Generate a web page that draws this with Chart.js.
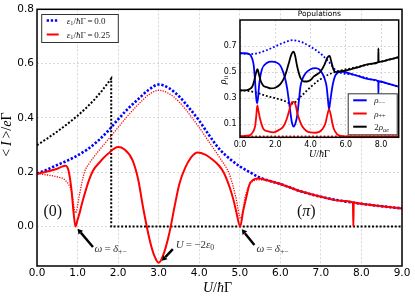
<!DOCTYPE html>
<html>
<head>
<meta charset="utf-8">
<script src="https://cdn.jsdelivr.net/npm/chart.js@4.4.1/dist/chart.umd.min.js"></script>
<style>
html, body { margin: 0; padding: 0; background: #fff; }
#wrap { position: relative; width: 415px; height: 296px; }
#main { position: absolute; left: 0; top: 0; }
#inset { position: absolute; left: 200px; top: 0; }
</style>
</head>
<body>
<div id="wrap">
  <canvas id="main" width="415" height="296"></canvas>
  <canvas id="inset" width="215" height="162"></canvas>
</div>
<script>
// ---- main panel: <I>/eΓ vs U/ħΓ ----
const uEps0 = [0, 0.25, 0.5, 0.75, 1, 1.25, 1.5, 1.75, 2, 2.25, 2.5, 2.75, 3, 3.25, 3.5, 3.75, 4, 4.25, 4.5, 4.75, 5, 5.25, 5.5, 6, 6.5, 7, 7.5, 8, 8.5, 9];
const iEps0 = [0.195, 0.21, 0.227, 0.243, 0.262, 0.285, 0.315, 0.352, 0.395, 0.435, 0.47, 0.503, 0.523, 0.51, 0.48, 0.437, 0.39, 0.335, 0.285, 0.25, 0.222, 0.2, 0.18, 0.157, 0.13, 0.11, 0.095, 0.084, 0.075, 0.067];

const uEps25 = [0, 0.25, 0.5, 0.6, 0.7, 0.78, 0.85, 0.9, 0.95, 1.0, 1.05, 1.1, 1.175, 1.28, 1.38, 1.54, 1.75, 2.0, 2.15, 2.36, 2.5, 2.61, 2.78, 2.9, 3.0, 3.1, 3.26, 3.4, 3.51, 3.65, 3.8, 3.96, 4.15, 4.3, 4.49, 4.6, 4.75, 4.85, 4.92, 5.01, 5.08, 5.16, 5.24, 5.33, 5.45, 5.7, 6, 6.5, 7, 7.5, 7.79, 7.8, 7.81, 8, 8.5, 9];
const iEps25 = [0.195, 0.203, 0.213, 0.22, 0.224, 0.205, 0.135, 0.055, 0.0, 0.025, 0.05, 0.08, 0.12, 0.17, 0.206, 0.236, 0.268, 0.293, 0.285, 0.243, 0.17, 0.075, -0.05, -0.11, -0.133, -0.11, -0.026, 0.08, 0.157, 0.215, 0.255, 0.273, 0.265, 0.25, 0.224, 0.2, 0.145, 0.095, 0.05, 0.0, 0.055, 0.108, 0.155, 0.172, 0.177, 0.17, 0.157, 0.13, 0.11, 0.095, 0.089, 0.0, 0.089, 0.084, 0.075, 0.067];

const uEps25b = [0, 0.25, 0.5, 0.7, 0.85, 0.95, 1.05, 1.17, 1.3, 1.5, 1.75, 2, 2.25, 2.5, 2.75, 3, 3.25, 3.5, 3.75, 4, 4.25, 4.5, 4.75, 4.9, 5.02, 5.15, 5.3, 5.5, 6, 6.5, 7, 7.5, 8, 8.5, 9];
const iEps25b = [0.195, 0.19, 0.183, 0.17, 0.13, 0.05, 0.12, 0.2, 0.235, 0.275, 0.32, 0.365, 0.41, 0.45, 0.485, 0.502, 0.49, 0.46, 0.415, 0.365, 0.31, 0.255, 0.19, 0.11, 0.03, 0.12, 0.165, 0.172, 0.155, 0.13, 0.11, 0.095, 0.084, 0.075, 0.067];

const uStep = [0, 0.25, 0.5, 0.75, 1, 1.2, 1.4, 1.6, 1.83, 1.83, 9];
const iStep = [0.3, 0.324, 0.35, 0.378, 0.408, 0.435, 0.465, 0.5, 0.545, 0.0, 0.0];

const mainXTicks = [0, 1, 2, 3, 4, 5, 6, 7, 8, 9];
const mainYTicks = [0, 0.2, 0.4, 0.6, 0.8];

// ---- inset: populations ----
const uMinus = [0, 0.3, 0.5, 0.6, 0.7, 0.78, 0.86, 0.92, 0.97, 1.02, 1.1, 1.24, 1.52, 1.8, 2.05, 2.29, 2.45, 2.57, 2.68, 2.76, 2.86, 2.95, 3.05, 3.15, 3.24, 3.34, 3.43, 3.55, 3.71, 4.0, 4.29, 4.5, 4.67, 4.8, 4.91, 4.98, 5.05, 5.12, 5.24, 5.34, 5.43, 5.71, 6.5, 7.5, 7.84, 7.85, 7.86, 8.5, 9];
const rhoMinus = [0.645, 0.645, 0.64, 0.63, 0.6, 0.55, 0.42, 0.3, 0.262, 0.3, 0.42, 0.52, 0.57, 0.58, 0.575, 0.55, 0.5, 0.445, 0.37, 0.29, 0.19, 0.11, 0.083, 0.11, 0.165, 0.28, 0.39, 0.45, 0.49, 0.522, 0.53, 0.52, 0.49, 0.45, 0.39, 0.3, 0.215, 0.28, 0.39, 0.45, 0.48, 0.505, 0.478, 0.442, 0.43, 0.33, 0.43, 0.408, 0.388];

const uPlus = [0, 0.4, 0.6, 0.75, 0.86, 0.92, 0.98, 1.05, 1.14, 1.33, 1.6, 1.9, 2.2, 2.48, 2.65, 2.76, 2.87, 2.95, 3.03, 3.15, 3.24, 3.38, 3.52, 3.75, 4.0, 4.3, 4.67, 4.85, 4.95, 5.05, 5.15, 5.25, 5.33, 5.5, 5.71, 6, 7, 8, 9];
const rhoPlus = [0.008, 0.012, 0.02, 0.045, 0.087, 0.16, 0.245, 0.2, 0.14, 0.063, 0.045, 0.038, 0.055, 0.087, 0.14, 0.19, 0.245, 0.27, 0.272, 0.25, 0.19, 0.13, 0.087, 0.05, 0.037, 0.035, 0.062, 0.11, 0.17, 0.215, 0.17, 0.1, 0.062, 0.025, 0.01, 0.007, 0.006, 0.006, 0.006];

const uAe = [0, 0.4, 0.55, 0.7, 0.8, 0.9, 0.99, 1.08, 1.18, 1.33, 1.52, 1.75, 2.0, 2.3, 2.55, 2.75, 2.9, 3.03, 3.12, 3.24, 3.43, 3.6, 3.8, 4.0, 4.19, 4.57, 4.8, 4.95, 5.08, 5.18, 5.3, 5.45, 5.7, 6.5, 7.5, 7.84, 7.85, 7.86, 8.5, 9];
const rhoAe = [0.36, 0.362, 0.37, 0.39, 0.43, 0.49, 0.523, 0.48, 0.43, 0.395, 0.385, 0.375, 0.38, 0.41, 0.47, 0.56, 0.63, 0.657, 0.63, 0.545, 0.455, 0.43, 0.428, 0.44, 0.467, 0.505, 0.56, 0.61, 0.625, 0.58, 0.52, 0.5, 0.505, 0.53, 0.565, 0.578, 0.683, 0.578, 0.597, 0.615];

const uMinus0 = [0, 0.5, 1, 1.5, 2, 2.5, 3, 3.5, 4, 4.5, 5, 5.5, 6.5, 7.5, 8.5, 9];
const rhoMinus0 = [0.645, 0.638, 0.645, 0.668, 0.697, 0.727, 0.745, 0.73, 0.695, 0.65, 0.585, 0.508, 0.478, 0.442, 0.408, 0.388];

const uPlus0 = [0, 9];
const rhoPlus0 = [0.006, 0.006];

const uAe0 = [0, 0.5, 1, 1.5, 2, 2.5, 2.95, 3.5, 4, 4.5, 5, 5.5, 6.5, 7.5, 8.5, 9];
const rhoAe0 = [0.36, 0.355, 0.34, 0.317, 0.3, 0.28, 0.258, 0.32, 0.385, 0.44, 0.48, 0.505, 0.535, 0.565, 0.597, 0.615];

const insetXTicks = [0, 2, 4, 6, 8];
const insetYTicks = [0.1, 0.3, 0.5, 0.7];

const pts = (xs, ys) => xs.map((x, i) => ({x: x, y: ys[i]}));
const SANS = '"DejaVu Sans", sans-serif';
const SERIF = '"Liberation Serif", "DejaVu Serif", serif';

// draws a list of [text, kind] pieces; kind: r roman, i italic, s subscript, si italic subscript
function drawMath(ctx, parts, x, y, size, align) {
  const fnt = k => (k.indexOf('i') >= 0 ? 'italic ' : '') + (k.indexOf('s') >= 0 ? size * 0.7 : size) + 'px ' + SERIF;
  let w = 0;
  parts.forEach(p => { ctx.font = fnt(p[1]); w += ctx.measureText(p[0]).width; });
  let cx = align === 'center' ? x - w / 2 : (align === 'right' ? x - w : x);
  ctx.textAlign = 'left';
  ctx.textBaseline = 'alphabetic';
  parts.forEach(p => {
    ctx.font = fnt(p[1]);
    const dy = p[1].indexOf('s') >= 0 ? size * 0.22 : 0;
    ctx.fillText(p[0], cx, y + dy);
    cx += ctx.measureText(p[0]).width;
  });
}

function arrow(ctx, x1, y1, x2, y2) {
  const a = Math.atan2(y2 - y1, x2 - x1);
  const hl = 5, hw = 3;
  ctx.save();
  ctx.strokeStyle = '#000'; ctx.fillStyle = '#000'; ctx.lineWidth = 2.4;
  ctx.beginPath();
  ctx.moveTo(x1, y1);
  ctx.lineTo(x2 - hl * Math.cos(a), y2 - hl * Math.sin(a));
  ctx.stroke();
  ctx.beginPath();
  ctx.moveTo(x2, y2);
  ctx.lineTo(x2 - hl * Math.cos(a) + hw * Math.sin(a), y2 - hl * Math.sin(a) - hw * Math.cos(a));
  ctx.lineTo(x2 - hl * Math.cos(a) - hw * Math.sin(a), y2 - hl * Math.sin(a) + hw * Math.cos(a));
  ctx.closePath();
  ctx.fill();
  ctx.restore();
}

const thin = '\u2009';

const mainDecor = {
  id: 'mainDecor',
  afterDraw(chart) {
    const ctx = chart.ctx, a = chart.chartArea;
    const xs = chart.scales.x, ys = chart.scales.y;
    const X = v => xs.getPixelForValue(v), Y = v => ys.getPixelForValue(v);
    ctx.save();
    ctx.strokeStyle = '#000'; ctx.lineWidth = 1.5;
    ctx.strokeRect(a.left, a.top, a.right - a.left, a.bottom - a.top);

    // legend
    const lx = a.left + 4.7, ly = a.top + 5.2;
    ctx.fillStyle = '#fff'; ctx.fillRect(lx, ly, 76.6, 28);
    ctx.strokeStyle = '#333'; ctx.lineWidth = 1; ctx.strokeRect(lx, ly, 76.6, 28);
    ctx.lineWidth = 2.6; ctx.strokeStyle = '#0000ff'; ctx.setLineDash([2.3, 1.8]);
    ctx.beginPath(); ctx.moveTo(lx + 5, ly + 6); ctx.lineTo(lx + 17, ly + 6); ctx.stroke();
    ctx.setLineDash([]); ctx.lineWidth = 2; ctx.strokeStyle = '#ff0000';
    ctx.beginPath(); ctx.moveTo(lx + 5, ly + 20); ctx.lineTo(lx + 17, ly + 20); ctx.stroke();
    ctx.fillStyle = '#222';
    drawMath(ctx, [['ε', 'i'], ['1', 's'], ['/', 'r'], ['ħ', 'i'], ['Γ', 'r'], [thin + '=' + thin + '0.0', 'r']], lx + 25, ly + 9, 9, 'left');
    drawMath(ctx, [['ε', 'i'], ['1', 's'], ['/', 'r'], ['ħ', 'i'], ['Γ', 'r'], [thin + '=' + thin + '0.25', 'r']], lx + 25, ly + 23, 9, 'left');

    // phase labels
    ctx.fillStyle = '#111';
    drawMath(ctx, [['(0)', 'r']], X(0.39), Y(0.06) + 5.5, 16, 'center');
    drawMath(ctx, [['(', 'r'], ['π', 'i'], [')', 'r']], X(6.64), Y(0.06) + 5.5, 16, 'center');

    // arrows and notes
    arrow(ctx, X(1.38), Y(-0.075), X(1.0), Y(-0.008));
    arrow(ctx, X(3.35), Y(-0.083), X(3.08), Y(-0.126));
    arrow(ctx, X(5.36), Y(-0.068), X(5.05), Y(-0.01));
    ctx.fillStyle = '#333';
    drawMath(ctx, [['ω', 'i'], [thin + '=' + thin, 'r'], ['δ', 'i'], ['+−', 's']], X(1.42), Y(-0.079) + 3.5, 11, 'left');
    drawMath(ctx, [['U', 'i'], [thin + '=' + thin + '−2', 'r'], ['ε', 'i'], ['0', 's']], X(3.42), Y(-0.066) + 3.5, 11, 'left');
    drawMath(ctx, [['ω', 'i'], [thin + '=' + thin, 'r'], ['δ', 'i'], ['+−', 's']], X(5.41), Y(-0.079) + 3.5, 11, 'left');

    // axis titles
    ctx.fillStyle = '#000';
    drawMath(ctx, [['U', 'i'], ['/', 'r'], ['ħ', 'i'], ['Γ', 'r']], (a.left + a.right) / 2 - 2, 292, 14, 'center');
    ctx.translate(10.5, (a.top + a.bottom) / 2 - 3);
    ctx.rotate(-Math.PI / 2);
    drawMath(ctx, [['<' + thin, 'r'], ['I', 'i'], [thin + '>', 'r'], ['/', 'r'], ['e', 'i'], ['Γ', 'r']], 0, 0, 14, 'center');
    ctx.restore();
  }
};

const tickCb = v => Number(v).toFixed(1);

new Chart(document.getElementById('main'), {
  type: 'line',
  data: {
    datasets: [
      {data: pts(uEps25, iEps25), borderColor: '#ff0000', borderWidth: 2, cubicInterpolationMode: 'monotone'},
      {data: pts(uEps25b, iEps25b), borderColor: '#ff0000', borderWidth: 1.3, borderDash: [1.2, 1.3], cubicInterpolationMode: 'monotone'},
      {data: pts(uEps0, iEps0), borderColor: '#0000ff', borderWidth: 2.6, borderDash: [2.3, 1.8], cubicInterpolationMode: 'monotone'},
      {data: pts(uStep, iStep), borderColor: '#000', borderWidth: 2, borderDash: [2, 1.8], tension: 0}
    ]
  },
  options: {
    responsive: false,
    animation: false,
    devicePixelRatio: 1,
    elements: {point: {radius: 0}},
    layout: {padding: {top: 7.5, right: 13, left: 0, bottom: 0}},
    plugins: {legend: {display: false}, tooltip: {enabled: false}},
    scales: {
      x: {
        type: 'linear', min: 0, max: 9,
        afterFit(s) { s.height = 30; },
        afterBuildTicks(s) { s.ticks = mainXTicks.map(v => ({value: v})); },
        ticks: {callback: tickCb, font: {family: SANS, size: 10.5}, color: '#000', padding: 1, maxRotation: 0, autoSkip: false},
        grid: {color: '#c8c8c8', lineWidth: 0.7, drawTicks: false},
        border: {display: false, dash: [2, 2]}
      },
      y: {
        type: 'linear', min: -0.145, max: 0.8,
        afterFit(s) { s.width = 37; },
        afterBuildTicks(s) { s.ticks = mainYTicks.map(v => ({value: v})); },
        ticks: {callback: tickCb, font: {family: SANS, size: 10.5}, color: '#000', padding: 3},
        grid: {color: '#c8c8c8', lineWidth: 0.7, drawTicks: false},
        border: {display: false, dash: [2, 2]}
      }
    }
  },
  plugins: [mainDecor]
});

const insetDecor = {
  id: 'insetDecor',
  beforeDraw(chart) {
    const ctx = chart.ctx, a = chart.chartArea;
    ctx.save();
    ctx.fillStyle = '#fff';
    ctx.fillRect(a.left, a.top, a.right - a.left, a.bottom - a.top);
    ctx.restore();
  },
  afterDraw(chart) {
    const ctx = chart.ctx, a = chart.chartArea;
    ctx.save();
    ctx.strokeStyle = '#000'; ctx.lineWidth = 1.5;
    ctx.strokeRect(a.left, a.top, a.right - a.left, a.bottom - a.top);

    // legend
    const bx = a.right - 50.5, by = a.bottom - 43.5;
    ctx.fillStyle = '#fff'; ctx.fillRect(bx, by, 49, 41);
    ctx.strokeStyle = '#333'; ctx.lineWidth = 1; ctx.strokeRect(bx, by, 49, 41);
    const cols = ['#0000ff', '#ff0000', '#000'];
    const labs = [
      [['ρ', 'i'], ['−−', 's']],
      [['ρ', 'i'], ['++', 's']],
      [['2', 'r'], ['ρ', 'i'], ['ae', 'si']]
    ];
    for (let k = 0; k < 3; k++) {
      const yy = by + 6.5 + k * 13.2;
      ctx.strokeStyle = cols[k]; ctx.lineWidth = 2;
      ctx.beginPath(); ctx.moveTo(bx + 5, yy); ctx.lineTo(bx + 18.5, yy); ctx.stroke();
      ctx.fillStyle = '#222';
      drawMath(ctx, labs[k], bx + 26, yy + 3, 9, 'left');
    }

    // title and axis titles
    ctx.fillStyle = '#000';
    ctx.font = '7.5px ' + SANS; ctx.textAlign = 'center'; ctx.textBaseline = 'middle';
    ctx.fillText('Populations', (a.left + a.right) / 2, a.top - 5.5);
    drawMath(ctx, [['U', 'i'], ['/', 'r'], ['ħ', 'i'], ['Γ', 'r']], (a.left + a.right) / 2, a.bottom + 20, 10, 'center');
    ctx.translate(a.left - 14, a.top + 60);
    ctx.rotate(-Math.PI / 2);
    drawMath(ctx, [['ρ', 'i'], ['ii', 's']], 0, 0, 10, 'center');
    ctx.restore();
  }
};

new Chart(document.getElementById('inset'), {
  type: 'line',
  data: {
    datasets: [
      {data: pts(uAe, rhoAe), borderColor: '#000', borderWidth: 1.8, cubicInterpolationMode: 'monotone'},
      {data: pts(uPlus, rhoPlus), borderColor: '#ff0000', borderWidth: 1.8, cubicInterpolationMode: 'monotone'},
      {data: pts(uMinus, rhoMinus), borderColor: '#0000ff', borderWidth: 1.8, cubicInterpolationMode: 'monotone'},
      {data: pts(uAe0, rhoAe0), borderColor: '#000', borderWidth: 1.8, borderDash: [1.8, 2], cubicInterpolationMode: 'monotone'},
      {data: pts(uPlus0, rhoPlus0), borderColor: '#ff0000', borderWidth: 1.8, borderDash: [1.8, 2]},
      {data: pts(uMinus0, rhoMinus0), borderColor: '#0000ff', borderWidth: 1.8, borderDash: [1.8, 2], cubicInterpolationMode: 'monotone'}
    ]
  },
  options: {
    responsive: false,
    animation: false,
    devicePixelRatio: 1,
    elements: {point: {radius: 0}},
    layout: {padding: {top: 20, right: 16.3, left: 0, bottom: 0}},
    plugins: {legend: {display: false}, tooltip: {enabled: false}},
    scales: {
      x: {
        type: 'linear', min: 0, max: 9,
        afterFit(s) { s.height = 24.7; },
        afterBuildTicks(s) { s.ticks = insetXTicks.map(v => ({value: v})); },
        ticks: {callback: tickCb, font: {family: SANS, size: 8}, color: '#000', padding: 2.5, maxRotation: 0, autoSkip: false},
        grid: {color: '#c8c8c8', lineWidth: 0.7, drawTicks: false},
        border: {display: false, dash: [2, 2]}
      },
      y: {
        type: 'linear', min: 0, max: 0.9,
        afterFit(s) { s.width = 40; },
        afterBuildTicks(s) { s.ticks = insetYTicks.map(v => ({value: v})); },
        ticks: {callback: tickCb, font: {family: SANS, size: 8}, color: '#000', padding: 3.5},
        grid: {color: '#c8c8c8', lineWidth: 0.7, drawTicks: false},
        border: {display: false, dash: [2, 2]}
      }
    }
  },
  plugins: [insetDecor]
});
</script>
</body>
</html>
